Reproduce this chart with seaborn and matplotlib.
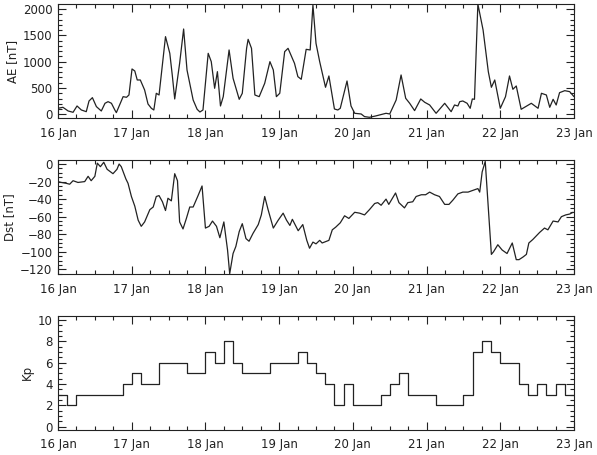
import numpy as np
import matplotlib
matplotlib.use("Agg")
import matplotlib.pyplot as plt
import seaborn as sns
from matplotlib.ticker import MultipleLocator, FixedLocator

# ---------------- data (hours since 16 Jan 00:00) ----------------
ae_hours = [0, 1.6, 3.3, 4.9, 6.2, 7.6, 9.2, 10.1, 11.2, 12.5, 14.1, 15.3, 16.3, 17.4,
            18.5, 19.0, 21.2, 22.3, 23.1, 24.1, 25.0, 25.8, 26.8, 28.2, 29.3, 30.4,
            31.2, 32.0, 32.9, 35.0, 36.4, 37.2, 38.0, 39.6, 40.9, 42.0, 44.0, 45.3,
            46.2, 47.2, 48.9, 49.9, 51.0, 51.9, 52.9, 53.8, 55.7, 57.0, 59.0, 60.0,
            61.4, 61.9, 63.0, 64.1, 65.5, 67.3, 69.0, 70.1, 71.1, 72.2, 73.8, 74.9,
            77.0, 78.1, 79.2, 80.8, 82.1, 83.0, 84.0, 85.2, 87.1, 88.2, 90.0, 91.1,
            91.9, 94.1, 95.4, 96.6, 98.7, 99.8, 101.4, 103.4, 106.8, 108.0, 110.1,
            111.7, 113.2, 114.5, 116.1, 118.1, 119.4, 121.0, 123.1, 125.9, 128.0,
            129.1, 130.2, 130.8, 131.8, 133.2, 134.2, 134.9, 135.6, 136.7, 138.4,
            140.1, 141.1, 142.2, 144.0, 145.7, 147.0, 148.1, 149.2, 150.8, 154.1,
            156.3, 157.4, 159.0, 160.1, 161.2, 162.2, 163.3, 165.0, 166.6, 168.0]
ae_values = [114, 133, 63, 38, 158, 82, 50, 253, 316, 146, 63, 209, 240, 209,
             82, 32, 335, 323, 367, 861, 823, 652, 652, 462, 196, 114,
             82, 399, 367, 1475, 1158, 747, 291, 968, 1620, 842, 272, 95,
             44, 82, 1158, 1000, 494, 810, 158, 335, 1222, 684, 285, 399,
             1253, 1424, 1253, 367, 335, 589, 1000, 842, 335, 399, 1190, 1253,
             968, 715, 665, 1234, 1222, 2076, 1348, 1000, 513, 728, 101, 82,
             114, 633, 158, 19, 6, -44, -57, -32, 19, 6, 272,
             747, 304, 209, 70, 291, 228, 177, 19, 209, 50,
             177, 158, 240, 253, 209, 114, 291, 285, 2095, 1601,
             810, 513, 652, 114, 335, 728, 475, 538, 95, 209,
             114, 399, 367, 133, 285, 177, 411, 449, 430, 335]

dst_hours = [0, 1.1, 2.7, 3.8, 4.9, 6.5, 8.7, 9.8, 10.8, 12.0, 12.8, 13.8, 14.9, 16.0,
             17.9, 19.2, 19.9, 20.6, 22.1, 22.8, 23.9, 25.0, 26.1, 27.1, 28.2, 29.9,
             31.0, 32.0, 32.9, 34.0, 35.0, 35.8, 36.9, 38.0, 38.9, 39.6, 40.7, 41.8,
             42.9, 44.0, 45.6, 46.9, 48.0, 49.2, 50.3, 51.6, 52.7, 54.0, 55.2, 55.9,
             57.0, 57.9, 59.0, 60.0, 61.2, 62.2, 63.5, 65.2, 66.2, 67.3, 68.4, 70.1,
             71.7, 73.3, 74.4, 75.5, 76.3, 78.2, 79.7, 81.0, 81.9, 83.0, 84.0, 85.2,
             86.0, 88.2, 89.3, 90.4, 91.9, 93.3, 94.7, 96.6, 98.2, 99.8, 101.4, 103.1,
             104.1, 105.2, 106.8, 107.7, 109.9, 111.0, 112.8, 113.9, 115.5, 116.6,
             118.3, 119.7, 121.0, 122.6, 124.2, 125.9, 127.3, 128.6, 130.2, 131.8,
             133.5, 135.1, 136.7, 137.3, 138.1, 139.1, 141.1, 141.8, 143.2, 144.6,
             146.2, 147.9, 149.2, 150.1, 151.4, 152.5, 153.3, 154.6, 156.8, 158.4,
             159.5, 161.2, 162.8, 163.9, 165.3, 166.6, 167.7]
dst_values = [-20, -21, -22, -23, -19, -21, -20, -14, -19, -14, 1, -3, 2, -6,
              -11, -6, 0, -3, -17, -22, -37, -48, -64, -71, -66, -52,
              -49, -37, -36, -43, -53, -39, -42, -11, -19, -66, -74, -62,
              -49, -49, -36, -25, -73, -71, -65, -71, -84, -66, -98, -125,
              -102, -94, -77, -68, -85, -88, -79, -69, -58, -37, -52, -73,
              -64, -56, -64, -70, -63, -76, -69, -87, -96, -89, -91, -87,
              -90, -87, -75, -72, -67, -59, -62, -55, -56, -58, -52, -45,
              -44, -47, -40, -46, -33, -44, -50, -44, -43, -37,
              -35, -35, -32, -35, -37, -46, -46, -41, -34, -32,
              -32, -30, -28, -32, -9, 3, -103, -100, -92, -98,
              -102, -90, -109, -109, -106, -103, -90, -86, -78, -73,
              -75, -65, -66, -60, -58, -57, -55]

# 3-hourly Kp, 16 Jan 00 UT to 22 Jan 21 UT
kp_values = [3, 2, 3, 3, 3, 3, 3, 4,
             5, 4, 4, 6, 6, 6, 5, 5,
             7, 6, 8, 6, 5, 5, 5, 6,
             6, 6, 7, 6, 5, 4, 2, 4,
             2, 2, 2, 3, 4, 5, 3, 3,
             3, 2, 2, 2, 3, 7, 8, 7,
             6, 6, 4, 3, 4, 3, 4, 3]

day_labels = ["16 Jan", "17 Jan", "18 Jan", "19 Jan", "20 Jan", "21 Jan", "22 Jan", "23 Jan"]

# ---------------- style ----------------
sns.set_style("ticks")
ink = "#222222"
plt.rcParams.update({
    "font.family": ["DejaVu Sans"],
    "xtick.direction": "in", "ytick.direction": "in",
    "xtick.top": True, "xtick.bottom": True,
    "ytick.left": True, "ytick.right": True,
    "xtick.major.size": 6, "ytick.major.size": 6,
    "xtick.minor.size": 3, "ytick.minor.size": 3,
    "xtick.major.width": 0.8, "ytick.major.width": 0.8,
    "xtick.minor.width": 0.8, "ytick.minor.width": 0.8,
    "xtick.color": ink, "ytick.color": ink,
    "xtick.labelsize": 8.5, "ytick.labelsize": 8.5,
    "xtick.major.pad": 6, "ytick.major.pad": 4,
    "axes.edgecolor": ink, "axes.linewidth": 0.8,
    "axes.labelsize": 8.5, "axes.labelcolor": ink,
})

fig = plt.figure(figsize=(5.97, 4.55), dpi=100)
W, H = 597.0, 455.0
left, width = 58 / W, 516 / W
ax1 = fig.add_axes([left, 1 - 118.3 / H, width, 114.3 / H])
ax2 = fig.add_axes([left, 1 - 274.3 / H, width, 114.3 / H])
ax3 = fig.add_axes([left, 1 - 430.0 / H, width, 114.3 / H])

ae_x = np.array(ae_hours) / 24.0
dst_x = np.array(dst_hours) / 24.0
kp_x = np.arange(len(kp_values) + 1) * 3 / 24.0
kp_y = kp_values + [kp_values[-1]]

sns.lineplot(x=ae_x, y=ae_values, ax=ax1, color=ink, linewidth=0.9,
             estimator=None, sort=False)
sns.lineplot(x=dst_x, y=dst_values, ax=ax2, color=ink, linewidth=0.9,
             estimator=None, sort=False)
sns.lineplot(x=kp_x, y=kp_y, ax=ax3, color=ink, linewidth=0.9,
             estimator=None, sort=False, drawstyle="steps-post")

ax1.set_ylim(-76, 2095)
ax1.yaxis.set_major_locator(FixedLocator([0, 500, 1000, 1500, 2000]))
ax1.yaxis.set_minor_locator(MultipleLocator(100))
ax1.set_ylabel("AE [nT]", labelpad=3)

ax2.set_ylim(-125.7, 4.6)
ax2.yaxis.set_major_locator(FixedLocator([0, -20, -40, -60, -80, -100, -120]))
ax2.yaxis.set_minor_locator(MultipleLocator(5))
ax2.set_ylabel("Dst [nT]", labelpad=3)

ax3.set_ylim(-0.3, 10.4)
ax3.yaxis.set_major_locator(FixedLocator([0, 2, 4, 6, 8, 10]))
ax3.yaxis.set_minor_locator(MultipleLocator(0.5))
ax3.set_ylabel("Kp", labelpad=3)

for ax in (ax1, ax2, ax3):
    ax.set_xlim(0, 7)
    ax.xaxis.set_major_locator(FixedLocator(list(range(8))))
    ax.set_xticklabels(day_labels)
    ax.xaxis.set_minor_locator(MultipleLocator(0.25))
    ax.set_xlabel("")
    for sp in ax.spines.values():
        sp.set_visible(True)

fig.savefig("out.png", dpi=100, facecolor="white")
